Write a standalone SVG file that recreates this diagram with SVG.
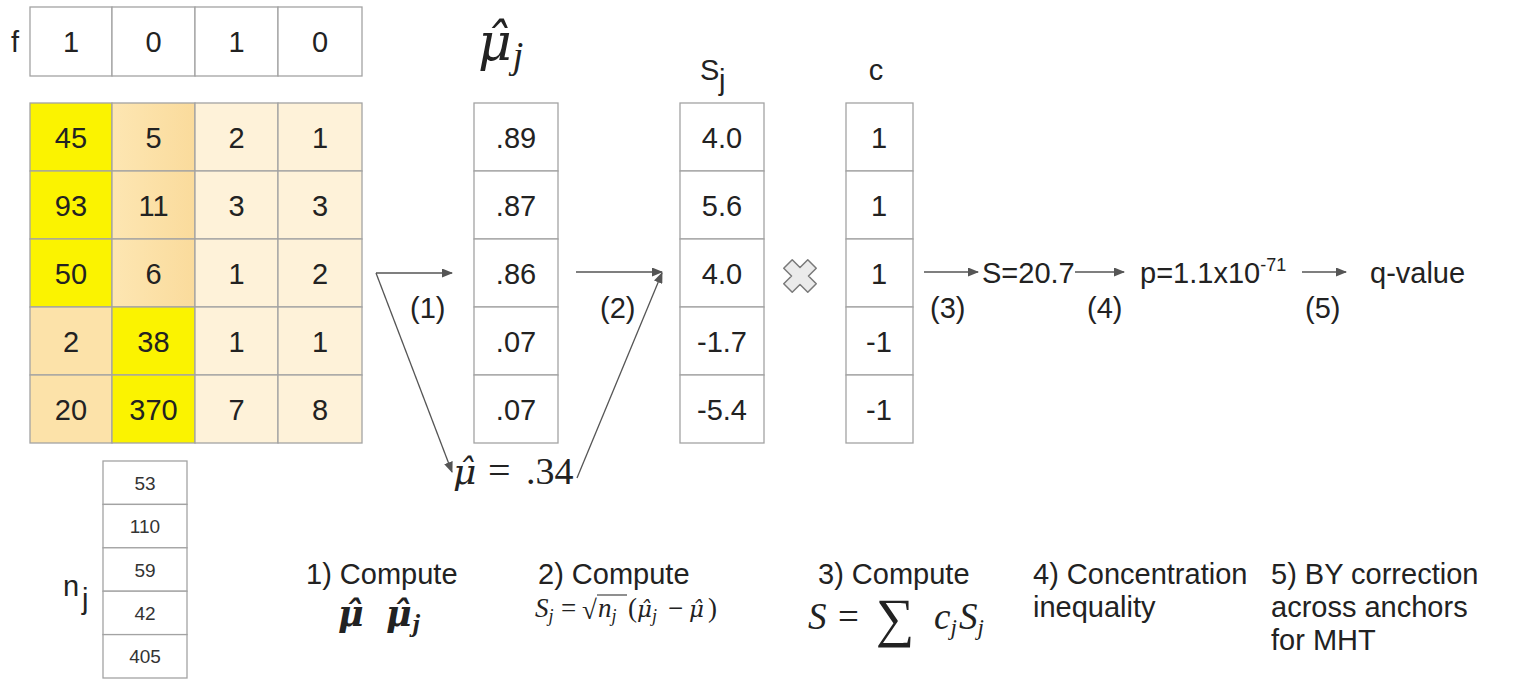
<svg xmlns="http://www.w3.org/2000/svg" width="1529" height="679" viewBox="0 0 1529 679">
<style>
  .cell { stroke: #a3a3a3; stroke-width: 1.3; }
  .w { fill: #ffffff; }
  .y { fill: #fbf300; }
  .m { fill: #fce2a9; }
  .l { fill: #fef2d9; }
  .t { font-family: "Liberation Sans", Arial, sans-serif; font-size: 29px; fill: #222; text-anchor: middle; }
  .s { font-family: "Liberation Sans", Arial, sans-serif; font-size: 29px; fill: #222; }
  .n { font-family: "Liberation Sans", Arial, sans-serif; font-size: 19px; fill: #333; text-anchor: middle; }
  .mi { font-family: "Liberation Serif", "Times New Roman", serif; font-style: italic; fill: #222; }
  .mr { font-family: "Liberation Serif", "Times New Roman", serif; fill: #222; }
  .mu { font-family: "DejaVu Serif", serif; font-style: italic; fill: #222; }
  .conn { stroke: #555; stroke-width: 1.3; fill: none; }
</style>
<defs>
  <linearGradient id="gm" x1="0" y1="0" x2="1" y2="0">
    <stop offset="0" stop-color="#fde6b2"/>
    <stop offset="1" stop-color="#fadb9c"/>
  </linearGradient>
  <marker id="ah" markerWidth="11" markerHeight="9" refX="10" refY="4.5" orient="auto" markerUnits="userSpaceOnUse">
    <path d="M0,0 L11,4.5 L0,9 z" fill="#555"/>
  </marker>
</defs>

<!-- f row -->
<g id="f-row">
  <text class="s" x="11" y="52">f</text>
  <rect class="cell w" x="30" y="7" width="82" height="69"/>
  <rect class="cell w" x="112" y="7" width="83" height="69"/>
  <rect class="cell w" x="195" y="7" width="83" height="69"/>
  <rect class="cell w" x="278" y="7" width="84" height="69"/>
  <text class="t" x="71" y="52">1</text>
  <text class="t" x="153.5" y="52">0</text>
  <text class="t" x="236.5" y="52">1</text>
  <text class="t" x="320" y="52">0</text>
</g>

<!-- count matrix -->
<g id="matrix">
  <rect class="cell y" x="30" y="103" width="82" height="68"/>
  <rect class="cell" fill="url(#gm)" x="112" y="103" width="83" height="68"/>
  <rect class="cell l" x="195" y="103" width="83" height="68"/>
  <rect class="cell l" x="278" y="103" width="84" height="68"/>
  <rect class="cell y" x="30" y="171" width="82" height="68"/>
  <rect class="cell" fill="url(#gm)" x="112" y="171" width="83" height="68"/>
  <rect class="cell l" x="195" y="171" width="83" height="68"/>
  <rect class="cell l" x="278" y="171" width="84" height="68"/>
  <rect class="cell y" x="30" y="239" width="82" height="68"/>
  <rect class="cell" fill="url(#gm)" x="112" y="239" width="83" height="68"/>
  <rect class="cell l" x="195" y="239" width="83" height="68"/>
  <rect class="cell l" x="278" y="239" width="84" height="68"/>
  <rect class="cell m" x="30" y="307" width="82" height="68"/>
  <rect class="cell y" x="112" y="307" width="83" height="68"/>
  <rect class="cell l" x="195" y="307" width="83" height="68"/>
  <rect class="cell l" x="278" y="307" width="84" height="68"/>
  <rect class="cell m" x="30" y="375" width="82" height="68"/>
  <rect class="cell y" x="112" y="375" width="83" height="68"/>
  <rect class="cell l" x="195" y="375" width="83" height="68"/>
  <rect class="cell l" x="278" y="375" width="84" height="68"/>
  <text class="t" x="71" y="147.5">45</text><text class="t" x="153.5" y="147.5">5</text><text class="t" x="236.5" y="147.5">2</text><text class="t" x="320" y="147.5">1</text>
  <text class="t" x="71" y="215.5">93</text><text class="t" x="153.5" y="215.5">11</text><text class="t" x="236.5" y="215.5">3</text><text class="t" x="320" y="215.5">3</text>
  <text class="t" x="71" y="283.5">50</text><text class="t" x="153.5" y="283.5">6</text><text class="t" x="236.5" y="283.5">1</text><text class="t" x="320" y="283.5">2</text>
  <text class="t" x="71" y="351.5">2</text><text class="t" x="153.5" y="351.5">38</text><text class="t" x="236.5" y="351.5">1</text><text class="t" x="320" y="351.5">1</text>
  <text class="t" x="71" y="419.5">20</text><text class="t" x="153.5" y="419.5">370</text><text class="t" x="236.5" y="419.5">7</text><text class="t" x="320" y="419.5">8</text>
</g>

<!-- n_j column -->
<g id="nj">
  <text class="s" x="63" y="596" font-size="28">n</text>
  <text class="s" x="82" y="609" font-size="15">j</text>
  <rect class="cell w" x="103" y="461" width="84" height="43.4"/>
  <rect class="cell w" x="103" y="504.4" width="84" height="43.4"/>
  <rect class="cell w" x="103" y="547.8" width="84" height="43.4"/>
  <rect class="cell w" x="103" y="591.2" width="84" height="43.4"/>
  <rect class="cell w" x="103" y="634.6" width="84" height="43.4"/>
  <text class="n" x="145" y="489.5">53</text>
  <text class="n" x="145" y="533">110</text>
  <text class="n" x="145" y="576.5">59</text>
  <text class="n" x="145" y="620">42</text>
  <text class="n" x="145" y="663">405</text>
</g>

<!-- mu_hat_j column -->
<g id="col-muj">
  <text class="mu" x="478" y="60" font-size="52">μ̂<tspan class="mi" font-size="38" dx="1" dy="8">j</tspan></text>
  <rect class="cell w" x="474" y="103" width="84" height="68"/>
  <rect class="cell w" x="474" y="171" width="84" height="68"/>
  <rect class="cell w" x="474" y="239" width="84" height="68"/>
  <rect class="cell w" x="474" y="307" width="84" height="68"/>
  <rect class="cell w" x="474" y="375" width="84" height="68"/>
  <text class="t" x="516" y="147.5">.89</text>
  <text class="t" x="516" y="215.5">.87</text>
  <text class="t" x="516" y="283.5">.86</text>
  <text class="t" x="516" y="351.5">.07</text>
  <text class="t" x="516" y="419.5">.07</text>
</g>

<!-- S_j column -->
<g id="col-sj">
  <text class="s" x="700" y="80" font-size="28">S</text>
  <text class="s" x="719" y="90" font-size="14">j</text>
  <rect class="cell w" x="680" y="103" width="84" height="68"/>
  <rect class="cell w" x="680" y="171" width="84" height="68"/>
  <rect class="cell w" x="680" y="239" width="84" height="68"/>
  <rect class="cell w" x="680" y="307" width="84" height="68"/>
  <rect class="cell w" x="680" y="375" width="84" height="68"/>
  <text class="t" x="722" y="147.5">4.0</text>
  <text class="t" x="722" y="215.5">5.6</text>
  <text class="t" x="722" y="283.5">4.0</text>
  <text class="t" x="722" y="351.5">-1.7</text>
  <text class="t" x="722" y="419.5">-5.4</text>
</g>

<!-- multiply sign -->
<g id="times">
  <polygon transform="translate(800,276) rotate(45)" points="-6,-17 6,-17 6,-6 17,-6 17,6 6,6 6,17 -6,17 -6,6 -17,6 -17,-6 -6,-6" fill="#ebebeb" stroke="#7a7a7a" stroke-width="1.5" stroke-linejoin="round"/>
</g>

<!-- c column -->
<g id="col-c">
  <text class="t" x="876" y="80" font-size="28">c</text>
  <rect class="cell w" x="846" y="103" width="67" height="68"/>
  <rect class="cell w" x="846" y="171" width="67" height="68"/>
  <rect class="cell w" x="846" y="239" width="67" height="68"/>
  <rect class="cell w" x="846" y="307" width="67" height="68"/>
  <rect class="cell w" x="846" y="375" width="67" height="68"/>
  <text class="t" x="879" y="147.5">1</text>
  <text class="t" x="879" y="215.5">1</text>
  <text class="t" x="879" y="283.5">1</text>
  <text class="t" x="879" y="351.5">-1</text>
  <text class="t" x="879" y="419.5">-1</text>
</g>

<!-- mu_hat = .34 -->
<g id="muhat">
  <text class="mu" x="453" y="484" font-size="36">μ̂</text>
  <text class="mr" x="488" y="484" font-size="40">=</text>
  <text class="mr" x="526" y="484" font-size="38">.34</text>
</g>

<!-- result chain -->
<g id="results">
  <text class="s" x="982" y="283">S=20.7</text>
  <text class="s" x="1140" y="283">p=1.1x10<tspan font-size="18" dy="-12">-71</tspan></text>
  <text class="s" x="1370" y="283">q-value</text>
</g>

<!-- connectors -->
<g id="connectors">
  <line class="conn" x1="376" y1="273" x2="452" y2="273" marker-end="url(#ah)"/>
  <line class="conn" x1="376" y1="273" x2="452" y2="472" marker-end="url(#ah)"/>
  <line class="conn" x1="576" y1="272" x2="662" y2="272" marker-end="url(#ah)"/>
  <line class="conn" x1="577" y1="478" x2="662" y2="273" marker-end="url(#ah)"/>
  <line class="conn" x1="924" y1="272" x2="978" y2="272" marker-end="url(#ah)"/>
  <line class="conn" x1="1075" y1="272" x2="1124" y2="272" marker-end="url(#ah)"/>
  <line class="conn" x1="1302" y1="272" x2="1346" y2="272" marker-end="url(#ah)"/>
  <text class="s" x="410" y="318">(1)</text>
  <text class="s" x="600" y="318">(2)</text>
  <text class="s" x="930" y="318">(3)</text>
  <text class="s" x="1087" y="318">(4)</text>
  <text class="s" x="1305" y="318">(5)</text>
</g>

<!-- step descriptions -->
<g id="step1">
  <text class="s" x="306" y="584">1) Compute</text>
  <text class="mu" x="338" y="626" font-size="35" font-weight="bold">μ̂</text>
  <text class="mu" x="386" y="626" font-size="35" font-weight="bold">μ̂<tspan class="mi" font-size="26" dx="1" dy="6">j</tspan></text>
</g>
<g id="step2">
  <text class="mi" x="535" y="617" font-size="27" fill="#444">S<tspan font-size="18" dy="5">j</tspan></text>
  <text class="mr" x="561" y="617" font-size="27" fill="#444">=</text>
  <text class="mr" x="582" y="619" font-size="27" fill="#444">√</text>
  <line x1="597" y1="595" x2="627" y2="595" stroke="#444" stroke-width="1.2"/>
  <text class="mi" x="598" y="617" font-size="27" fill="#444">n<tspan font-size="18" dy="5">j</tspan></text>
  <text class="mr" x="628" y="617" font-size="27" fill="#444">(</text>
  <text class="mu" x="637" y="617" font-size="23" fill="#444">μ̂<tspan class="mi" font-size="18" dx="0" dy="5">j</tspan></text>
  <text class="mr" x="668" y="617" font-size="27" fill="#444">−</text>
  <text class="mu" x="689" y="617" font-size="23" fill="#444">μ̂</text>
  <text class="mr" x="708" y="617" font-size="27" fill="#444">)</text>
  <text class="s" x="538" y="584">2) Compute</text>
</g>
<g id="step3">
  <text class="s" x="818" y="584">3) Compute</text>
  <text class="mi" x="808" y="629" font-size="37">S</text>
  <text class="mr" x="838" y="629" font-size="37">=</text>
  <text class="mr" x="876" y="636" font-size="54">∑</text>
  <text class="mi" x="934" y="629" font-size="37">c<tspan font-size="23" dy="6">j</tspan></text>
  <text class="mi" x="959" y="629" font-size="37">S<tspan font-size="23" dy="6">j</tspan></text>
</g>
<g id="step4">
  <text class="s" x="1033" y="584">4) Concentration</text>
  <text class="s" x="1033" y="617">inequality</text>
</g>
<g id="step5">
  <text class="s" x="1271" y="584">5) BY correction</text>
  <text class="s" x="1271" y="617">across anchors</text>
  <text class="s" x="1271" y="650">for MHT</text>
</g>
</svg>
